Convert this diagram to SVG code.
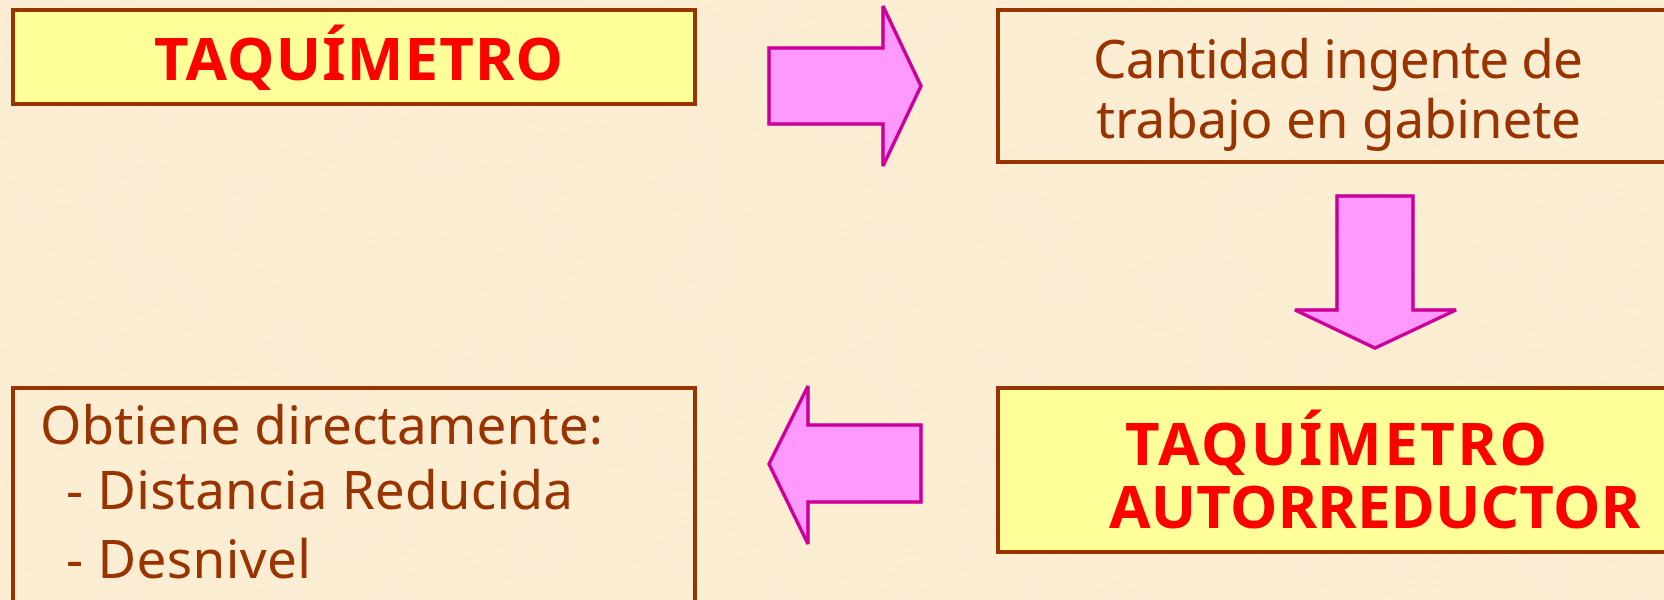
<svg xmlns="http://www.w3.org/2000/svg" width="1664" height="600" viewBox="0 0 1664 600">
<defs>
<style>
.box{stroke:#993300;stroke-width:4}
.yel{fill:#FFFF99}
.clear{fill:none}
.arrow{fill:#FF99FF;stroke:#CC0099;stroke-width:3.5;stroke-linejoin:miter}
.bold{font-family:"Comic Sans MS","Noto Sans","DejaVu Sans",sans-serif;font-weight:bold;font-size:60px;fill:#FF0000}
.norm{font-family:"Comic Sans MS","Noto Sans","DejaVu Sans",sans-serif;font-size:53px;fill:#993300}
</style>
<filter id="tex" x="0" y="0" width="100%" height="100%">
<feTurbulence type="fractalNoise" baseFrequency="0.012" numOctaves="3" seed="4" result="n"/>
<feColorMatrix in="n" type="matrix" values="0 0 0 0 0.93  0 0 0 0 0.82  0 0 0 0 0.64  0 0 0 -1.4 0.85"/>
</filter>
</defs>
<rect width="1664" height="600" fill="#FCEED3"/>
<rect width="1664" height="600" filter="url(#tex)" opacity="0.6"/>

<g id="connectors">
<polygon class="arrow" points="769,48 883,48 883,6 921,86 883,166 883,124 769,124"/>
<polygon class="arrow" points="1337,196 1413,196 1413,310 1456,310 1375,348 1295,310 1337,310"/>
<polygon class="arrow" points="921,425 808,425 808,386 769,464 808,544 808,502 921,502"/>
</g>

<g id="taquimetro">
<rect class="box yel" x="13" y="10" width="682" height="94"/>
<text class="bold" x="154" y="80" textLength="409" lengthAdjust="spacing">TAQUÍMETRO</text>
</g>

<g id="trabajo">
<rect class="box clear" x="998" y="10" width="680" height="152"/>
<text class="norm" x="1093" y="78" textLength="490" lengthAdjust="spacing">Cantidad ingente de</text>
<text class="norm" x="1096" y="138" textLength="485" lengthAdjust="spacing">trabajo en gabinete</text>
</g>

<g id="autorreductor">
<rect class="box yel" x="998" y="388" width="680" height="164"/>
<text class="bold" x="1125" y="465" textLength="422" lengthAdjust="spacing">TAQUÍMETRO</text>
<text class="bold" x="1109" y="528" textLength="531" lengthAdjust="spacing">AUTORREDUCTOR</text>
</g>

<g id="obtiene">
<rect class="box clear" x="13" y="388" width="682" height="230"/>
<text class="norm" x="40" y="444" textLength="563" lengthAdjust="spacing">Obtiene directamente:</text>
<text class="norm" x="66" y="509" textLength="507" lengthAdjust="spacing">- Distancia Reducida</text>
<text class="norm" x="66" y="578" textLength="245" lengthAdjust="spacing">- Desnivel</text>
</g>
</svg>
